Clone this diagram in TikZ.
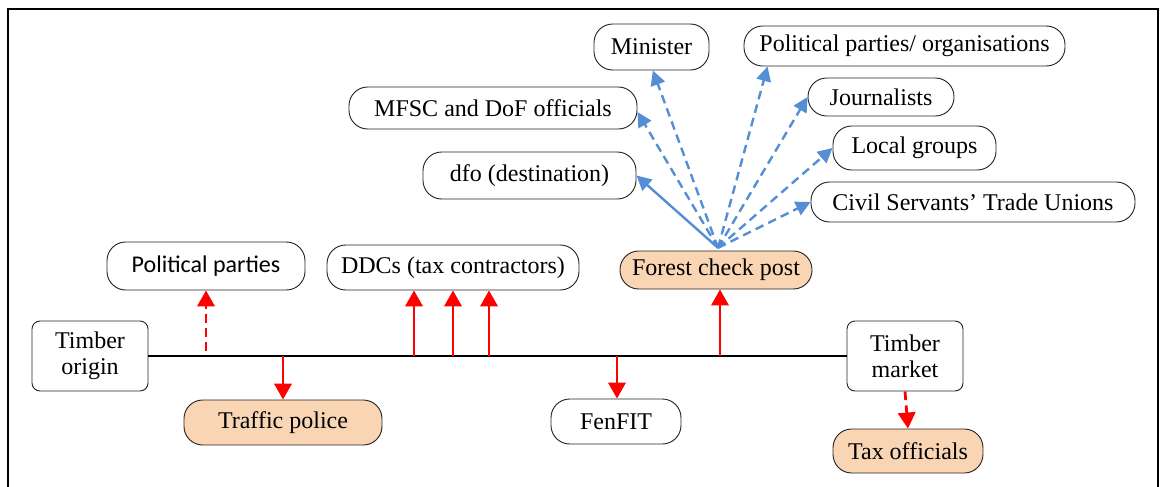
\documentclass[tikz,border=0pt]{standalone}
\usepackage{fontspec}
\setmainfont{Liberation Serif}
\newfontfamily\calib{Carlito}
\usetikzlibrary{arrows.meta}
\definecolor{peach}{HTML}{F9D5B4}
\definecolor{linkblue}{HTML}{558ED5}
\begin{document}
\begin{tikzpicture}[x=0.75pt,y=-0.75pt,
  box/.style={draw=black!85, line width=0.7pt, inner sep=0pt, align=center,
              font=\fontsize{18}{19.5}\selectfont},
  pill/.style={box, rounded corners=14pt},
  site/.style={box, rounded corners=6pt},
  paid/.style={fill=peach},
  sz/.style 2 args={minimum width=#1, minimum height=#2},
  flow/.style={red, line width=2.1pt, -{Triangle[width=13pt,length=12pt]}},
  link/.style={linkblue, line width=1.8pt, -{Triangle[width=11pt,length=11pt]}},
  hint/.style={dash pattern=on 6.5pt off 4pt},
]
\useasboundingbox (0,0) rectangle (1162,486);
\begin{scope}
  \clip (0,0) rectangle (1162,486);
  \draw[line width=1.6pt] (8,9) rectangle (1158,500);
\end{scope}

% actors reached from the forest check post
\node[pill, sz={86.25pt}{34.5pt}]  (minister) at (651.5,47)  {Minister};
\node[pill, sz={216pt}{31.5pt}]    (mfsc)     at (493,108)   {MFSC and DoF officials};
\node[pill, sz={159.75pt}{35.25pt}] (dfo)     at (529.5,175.5) {dfo (destination)};
\node[pill, sz={240.75pt}{30pt}]   (polorg)   at (904.5,46)  {Political parties/ organisations};
\node[pill, sz={109.5pt}{28.5pt}]  (journ)    at (881,97)    {Journalists};
\node[pill, sz={122.25pt}{33pt}]   (local)    at (914.5,148) {Local groups};
\node[pill, sz={243pt}{30pt}]      (civil)    at (973,202)   {Civil Servants’ Trade Unions};

% actors along the transport route
\node[pill, sz={148.5pt}{36pt}, font=\calib\fontsize{18}{19.5}\selectfont]
                                   (polpart)  at (206,266)   {Political parties};
\node[pill, sz={189pt}{33.75pt}]   (ddc)      at (453,267.5) {DDCs (tax contractors)};
\node[pill, paid, sz={144pt}{28.5pt}] (forest) at (716,270)  {Forest check post};
\node[site, sz={87pt}{52.5pt}]     (origin)   at (90,356)    {Timber\\origin};
\node[site, sz={87pt}{52.5pt}]     (market)   at (905,356)   {Timber\\market};
\node[pill, paid, sz={148.5pt}{33.75pt}] (traffic) at (283,422.5) {Traffic police};
\node[pill, sz={97.5pt}{33.75pt}]  (fenfit)   at (616,421.5) {FenFIT};
\node[pill, paid, sz={112.5pt}{33pt}] (tax)   at (908,451)   {Tax officials};

% the route itself
\draw[line width=2pt] (origin.east) -- (market.west);

% payments along the route
\draw[flow, hint, shorten <=4pt] (polpart.south |- origin.east) -- (polpart.south);
\draw[flow] (traffic.north |- origin.east) -- (traffic.north);
\draw[flow] ([xshift=-29.25pt]ddc.south |- origin.east) -- ([xshift=-29.25pt]ddc.south);
\draw[flow] (ddc.south |- origin.east) -- (ddc.south);
\draw[flow] ([xshift=27pt]ddc.south |- origin.east) -- ([xshift=27pt]ddc.south);
\draw[flow] ([xshift=0.75pt]fenfit.north |- origin.east) -- ([xshift=0.75pt]fenfit.north);
\draw[flow] ([xshift=3pt]forest.south |- origin.east) -- ([xshift=3pt]forest.south);
\draw[flow, hint] (market.south) -- (tax.north);

% links fanning out from the forest check post
\coordinate (hub) at ([xshift=1.5pt,yshift=2pt]forest.north);
\draw[link] (hub) -- (dfo.east);
\draw[link, hint] (hub) -- ([yshift=-3pt]mfsc.east);
\draw[link, hint] (hub) -- ([xshift=1pt]minister.south);
\draw[link, hint] (hub) -- ([xshift=18pt]polorg.south west);
\draw[link, hint] (hub) -- (journ.west);
\draw[link, hint] (hub) -- (local.west);
\draw[link, hint] (hub) -- (civil.west);
\end{tikzpicture}
\end{document}
